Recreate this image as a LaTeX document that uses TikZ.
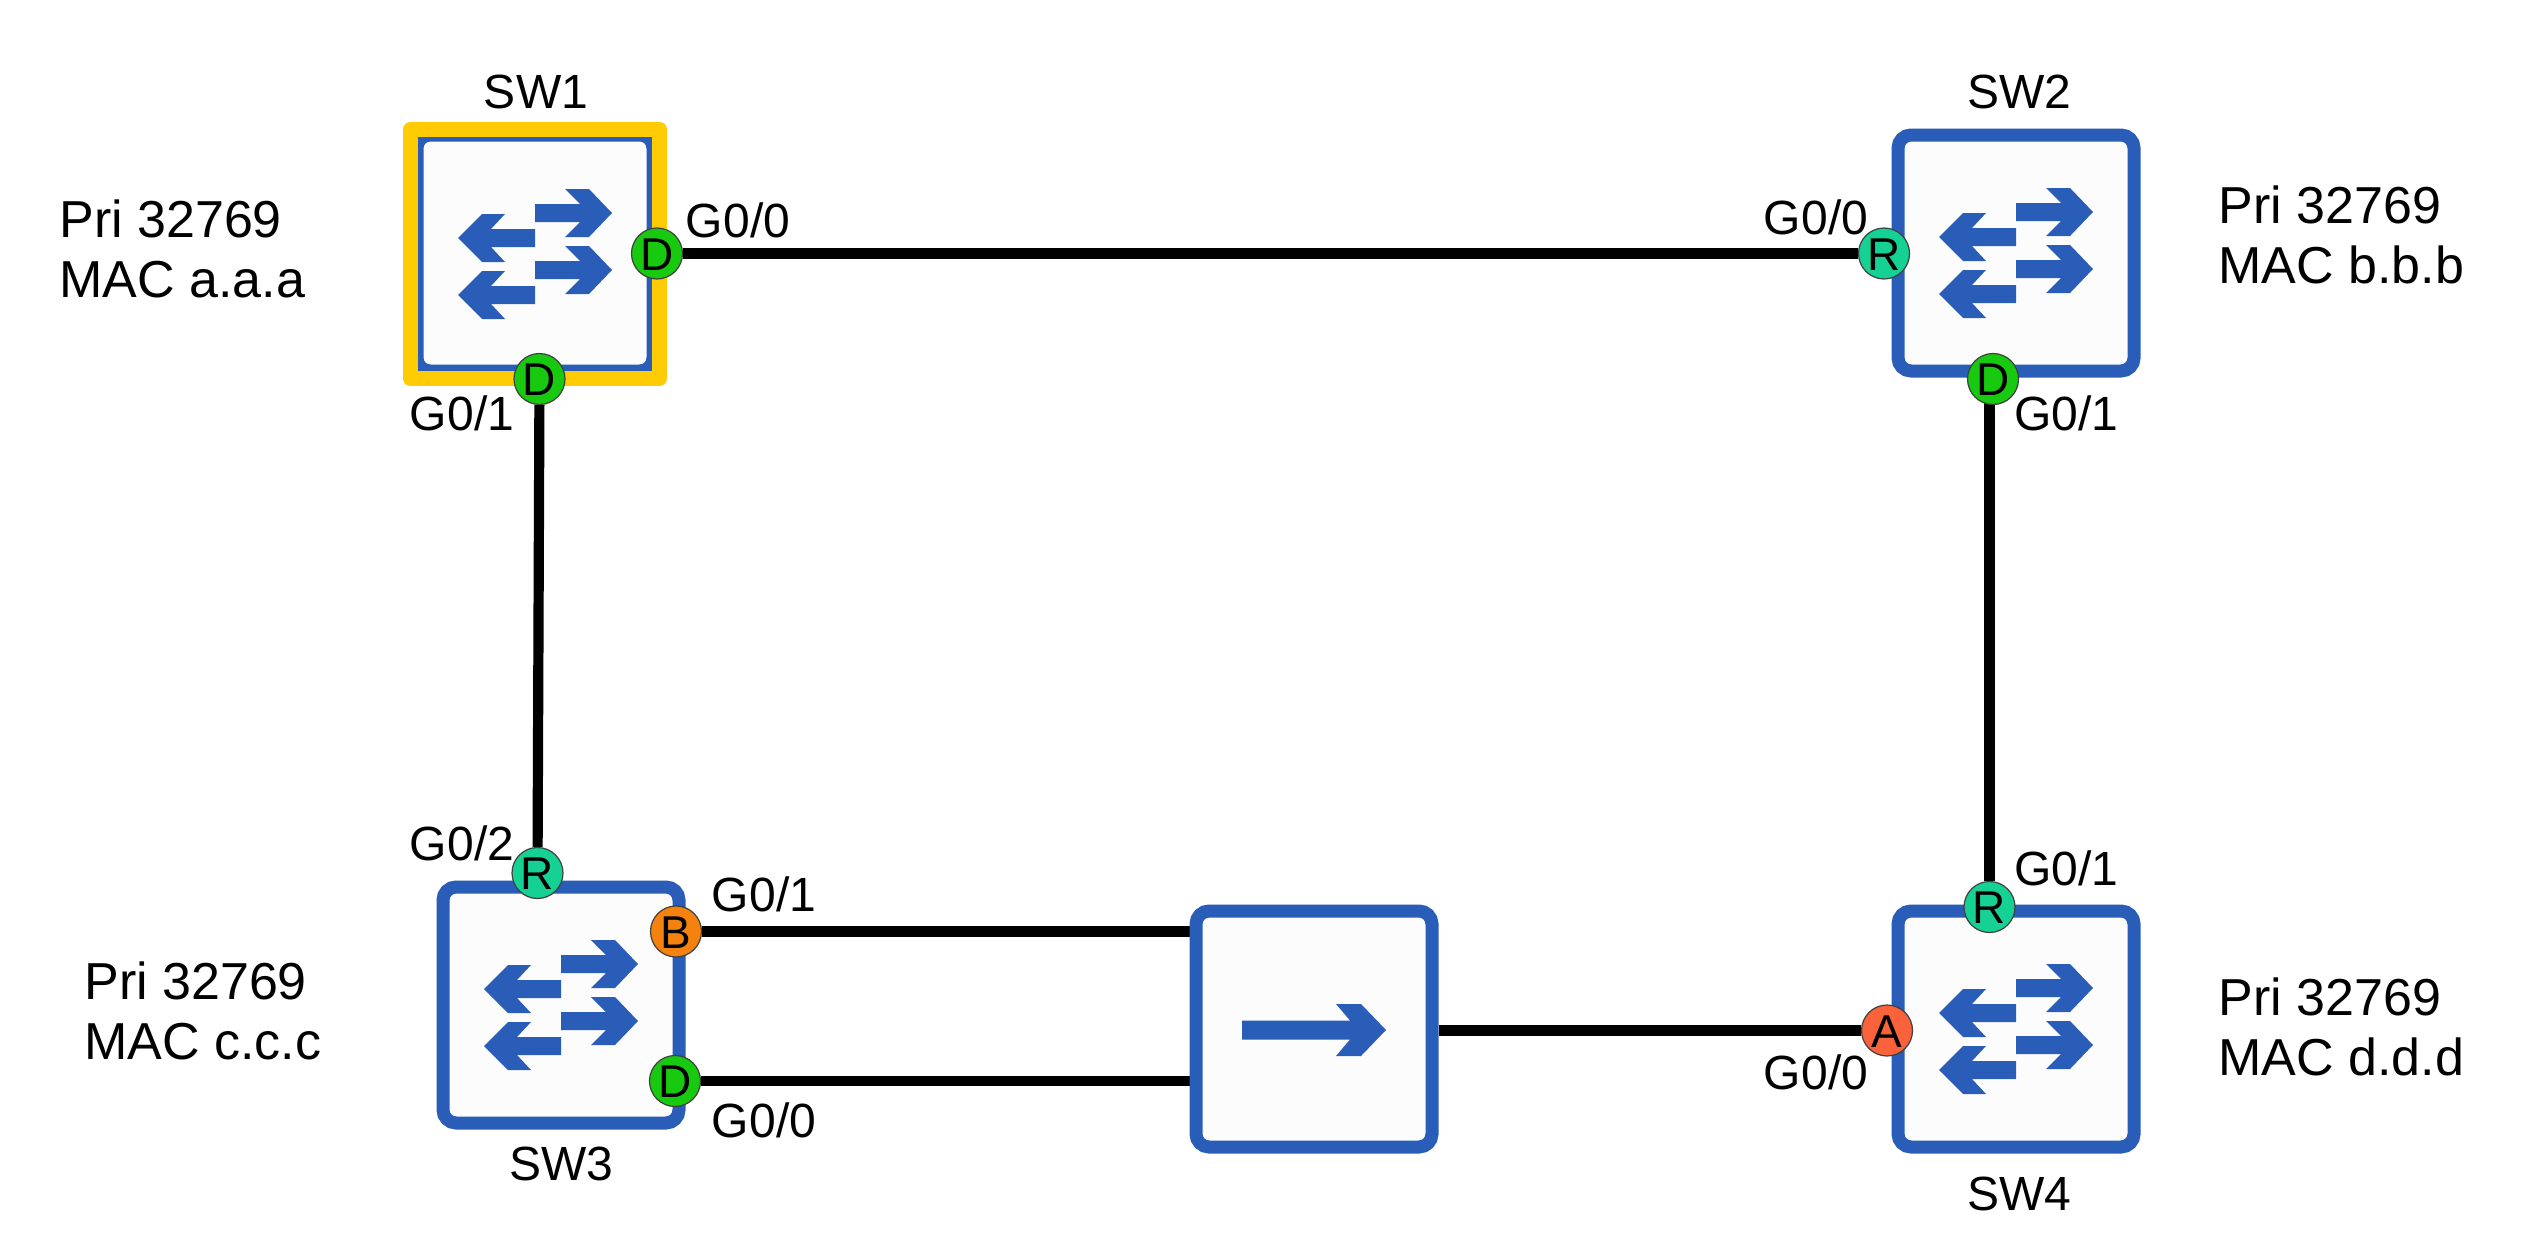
\documentclass[tikz,border=0pt]{standalone}
\usepackage{fontspec}
\setmainfont{Liberation Sans}
\usetikzlibrary{backgrounds}
\definecolor{swblue}{HTML}{2A5DB8}
\definecolor{gold}{HTML}{FFCB05}
\definecolor{pgreen}{HTML}{17C90F}
\definecolor{pteal}{HTML}{15D194}
\definecolor{porange}{HTML}{F5820E}
\definecolor{pred}{HTML}{F9623A}
\definecolor{boxfill}{HTML}{FCFCFD}
\tikzset{
  x=0.5pt,y=-0.5pt,
  devbox/.style={draw=swblue,line width=6.5pt,rounded corners=6.5pt,fill=boxfill,minimum size=118pt,inner sep=0pt},
  hilite/.style={draw=gold,line width=7.5pt,line join=round,minimum size=124.5pt,inner sep=0pt},
  link/.style={draw=black,line width=5.1pt},
  port/.style={circle,draw=black!75,line width=0.6pt,minimum size=25.5pt,inner sep=0pt,font=\fontsize{23}{25}\selectfont,text height=16.5pt,text depth=0pt},
  ifl/.style={font=\fontsize{24}{26}\selectfont,inner sep=0pt,text height=17pt,text depth=0pt},
  info/.style={font=\fontsize{26}{30}\selectfont,align=left,inner sep=0pt,anchor=west},
  swicon/.pic={
    \fill[swblue] (0,-50) -- (45,-50) -- (30,-65) -- (54,-65) -- (77,-41) -- (54,-17) -- (30,-17) -- (45,-32) -- (0,-32) -- cycle;
    \fill[swblue] (0,7) -- (45,7) -- (30,-8) -- (54,-8) -- (77,16) -- (54,40) -- (30,40) -- (45,25) -- (0,25) -- cycle;
    \fill[swblue] (0,32) -- (-44,32) -- (-30,17) -- (-53,17) -- (-77,41) -- (-53,65) -- (-30,65) -- (-44,50) -- (0,50) -- cycle;
    \fill[swblue] (0,-25) -- (-44,-25) -- (-30,-40) -- (-53,-40) -- (-77,-16) -- (-53,8) -- (-30,8) -- (-44,-7) -- (0,-7) -- cycle;
  },
  fwdicon/.pic={
    \fill[swblue] (-72,-9.5) -- (36,-9.5) -- (22,-26) -- (47,-26) -- (72,0) -- (47,26) -- (22,26) -- (36,9.5) -- (-72,9.5) -- cycle;
  }
}
\begin{document}
\begin{tikzpicture}
\useasboundingbox (0,0) rectangle (2546,1252);
% devices
\node[devbox] (sw1) at (535,253) {};
\node[hilite] (sw1hl) at (535,254) {};
\node[devbox] (sw2) at (2016,253) {};
\node[devbox] (sw3) at (561,1005) {};
\node[devbox] (hub) at (1314,1029) {};
\node[devbox] (sw4) at (2016,1029) {};
\pic at (535,254) {swicon};
\pic at (2016,253) {swicon};
\pic at (561,1005) {swicon};
\pic at (2016,1029) {swicon};
\pic at (1314,1030) {fwdicon};
% ports
\node[port,fill=pgreen] (p1r) at (657,253.5) {D};
\node[port,fill=pgreen] (p1b) at (539.5,379) {D};
\node[port,fill=pteal] (p2l) at (1884,253.5) {R};
\node[port,fill=pgreen] (p2b) at (1993,379) {D};
\node[port,fill=pteal] (p3t) at (537.5,873) {R};
\node[port,fill=porange] (p3a) at (676,931.5) {B};
\node[port,fill=pgreen] (p3d) at (675,1081) {D};
\node[port,fill=pred] (p4l) at (1887,1030.5) {A};
\node[port,fill=pteal] (p4t) at (1989.5,907) {R};
% connectors
\begin{scope}[on background layer]
\fill[white] (0,0) rectangle (2546,1252);
\draw[link] (p1r) -- (p2l);
\draw[link] (p1b) -- (p3t);
\draw[link] (p2b.center -| p4t) -- (p4t);
\draw[link] (p3a) -- (p3a -| hub.west);
\draw[link] (p3d) -- (p3d -| hub.west);
\draw[link] (p4l) -- (p4l -| hub.east);
\end{scope}
% names
\node[ifl] (n1) at (536,92) {SW1};
\node[ifl] (n2) at (2019,92) {SW2};
\node[ifl] (n3) at (561,1163) {SW3};
\node[ifl] (n4) at (2019,1193) {SW4};
% interface labels
\node[ifl] (l1) at (738,220) {G0/0};
\node[ifl] (l2) at (462,413) {G0/1};
\node[ifl] (l3) at (1816,217) {G0/0};
\node[ifl] (l4) at (2066,413) {G0/1};
\node[ifl] (l5) at (462,843) {G0/2};
\node[ifl] (l6) at (764,894) {G0/1};
\node[ifl] (l7) at (764,1120) {G0/0};
\node[ifl] (l8) at (2066,868) {G0/1};
\node[ifl] (l9) at (1816,1072) {G0/0};
% info
\node[info] (i1) at (59,249) {Pri 32769\\MAC a.a.a};
\node[info] (i2) at (2218,235) {Pri 32769\\MAC b.b.b};
\node[info] (i3) at (84,1011) {Pri 32769\\MAC c.c.c};
\node[info] (i4) at (2218,1026.5) {Pri 32769\\MAC d.d.d};
\end{tikzpicture}
\end{document}
